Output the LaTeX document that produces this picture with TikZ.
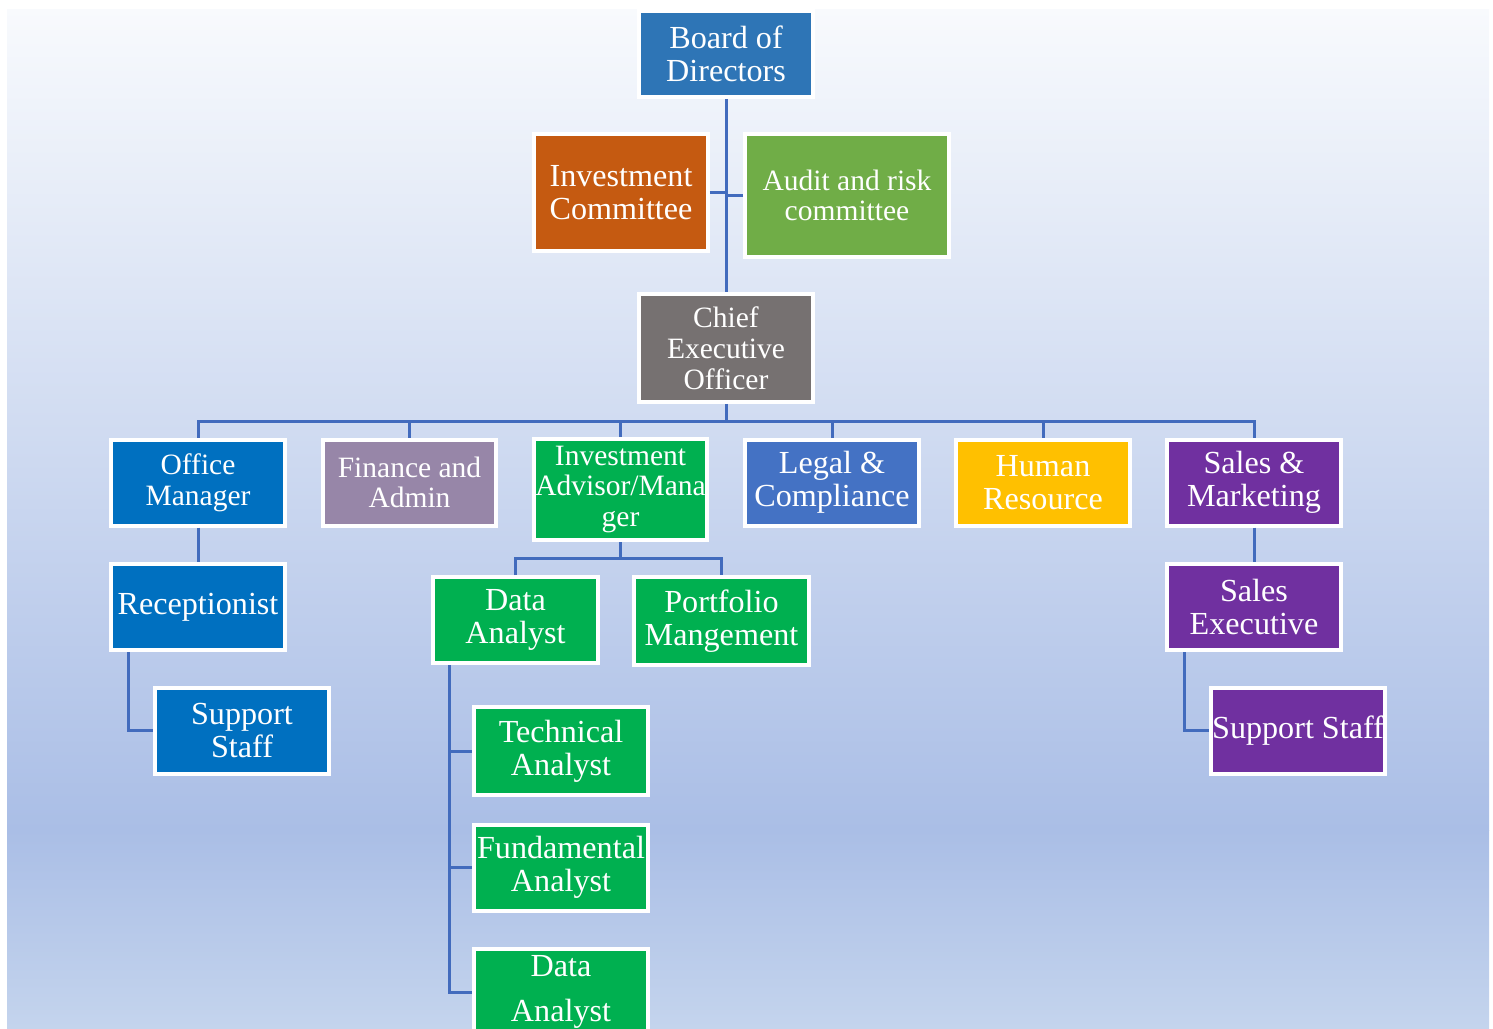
\documentclass[tikz,border=0pt]{standalone}
\usepackage{fontspec}
\setmainfont{Liberation Serif}
\definecolor{bgtop}{HTML}{F8FAFD}
\definecolor{bgmid}{HTML}{AABEE6}
\definecolor{bgbot}{HTML}{C4D4ED}
\definecolor{linkblue}{HTML}{426BBD}
\definecolor{boardblue}{HTML}{2E75B6}
\definecolor{icorange}{HTML}{C55A11}
\definecolor{auditgreen}{HTML}{70AD47}
\definecolor{ceogrey}{HTML}{767171}
\definecolor{officeblue}{HTML}{0070C0}
\definecolor{financemauve}{HTML}{9786A8}
\definecolor{investgreen}{HTML}{00B050}
\definecolor{legalblue}{HTML}{4472C4}
\definecolor{hrgold}{HTML}{FFC000}
\definecolor{salespurple}{HTML}{7030A0}
\newcommand{\bigtext}{\fontsize{18.3}{19.0}\selectfont}
\newcommand{\smalltext}{\fontsize{16.8}{17.5}\selectfont}
\tikzset{
  unit/.style={draw=white, line width=0.08cm, fill=#1, text=white, align=center,
    inner sep=0pt, minimum width=3.48cm, minimum height=1.72cm, font=\bigtext},
  link/.style={draw=linkblue, line width=0.06cm}
}
\begin{document}
\begin{tikzpicture}[x=0.02cm, y=-0.02cm]
    \useasboundingbox (0,0) rectangle (1493,1028);
    \shade[top color=bgtop, bottom color=bgmid] (7,9) rectangle (1489,830);
    \shade[top color=bgmid, bottom color=bgbot] (7,830) rectangle (1489,1028);

    \node[unit=boardblue] (bod) at (726,54) {Board of\\Directors};
    \node[unit=icorange, minimum height=2.34cm] (ic) at (621,192.5) {Investment\\Committee};
    \node[unit=auditgreen, minimum width=4.08cm, minimum height=2.46cm, font=\smalltext] (arc) at (847,195.5) {Audit and risk\\committee};
    \node[unit=ceogrey, minimum height=2.16cm, font=\smalltext] (ceo) at (726,348) {Chief\\Executive\\Officer};

    \node[unit=officeblue, font=\smalltext] (om) at (198,482.5) {Office\\Manager};
    \node[unit=financemauve, font=\smalltext] (fin) at (409.5,482.5) {Finance and\\Admin};
    \node[unit=investgreen, minimum height=2.02cm, font=\smalltext] (iam) at (620.5,489.5) {Investment\\Advisor/Mana\\ger};
    \node[unit=legalblue] (lc) at (832,482.5) {Legal \&\\Compliance};
    \node[unit=hrgold] (hr) at (1043,482.5) {Human\\Resource};
    \node[unit=salespurple] (sm) at (1254,482.5) {Sales \&\\Marketing};

    \node[unit=officeblue] (rec) at (198,607) {Receptionist};
    \node[unit=officeblue] (ssa) at (242,730.5) {Support\\Staff};

    \node[unit=investgreen, minimum width=3.3cm] (daa) at (515.5,620) {Data\\Analyst};
    \node[unit=investgreen, minimum width=3.5cm, minimum height=1.76cm] (pm) at (721.5,621) {Portfolio\\Mangement};
    \node[unit=investgreen, minimum height=1.76cm] (ta) at (561,751) {Technical\\Analyst};
    \node[unit=investgreen] (fa) at (561,867.5) {Fundamental\\Analyst};
    \node[unit=investgreen, font=\fontsize{18.3}{25.6}\selectfont] (dab) at (561,992) {Data\\Analyst};

    \node[unit=salespurple] (se) at (1254,607) {Sales\\Executive};
    \node[unit=salespurple] (ssb) at (1298,730.5) {Support Staff};

    \coordinate (bus) at (726,421);
    \coordinate (subbus) at (620.5,558);
    \coordinate (recdrop) at ([xshift=0.38cm]rec.south west);
    \coordinate (dadrop) at ([xshift=0.36cm]daa.south west);
    \coordinate (sedrop) at ([xshift=0.38cm]se.south west);

    \draw[link] (bod) -- (ceo);
    \draw[link] (ic.east) -- (ic.east -| bod.south);
    \draw[link] (arc.west) -- (arc.west -| bod.south);

    \draw[link] (ceo.south) -- (bus);
    \draw[link] (om.north) |- (bus) -| (sm.north);
    \foreach \unitname in {fin,iam,lc,hr}
        \draw[link] (\unitname.north) -- (\unitname.north |- bus);

    \draw[link] (om) -- (rec);
    \draw[link] (recdrop) |- (ssa.west);

    \draw[link] (iam.south) -- (subbus);
    \draw[link] (daa.north) |- (subbus) -| (pm.north);
    \draw[link] (dadrop) |- (ta.west);
    \draw[link] (dadrop) |- (fa.west);
    \draw[link] (dadrop) |- (dab.west);

    \draw[link] (sm) -- (se);
    \draw[link] (sedrop) |- (ssb.west);
\end{tikzpicture}
\end{document}
